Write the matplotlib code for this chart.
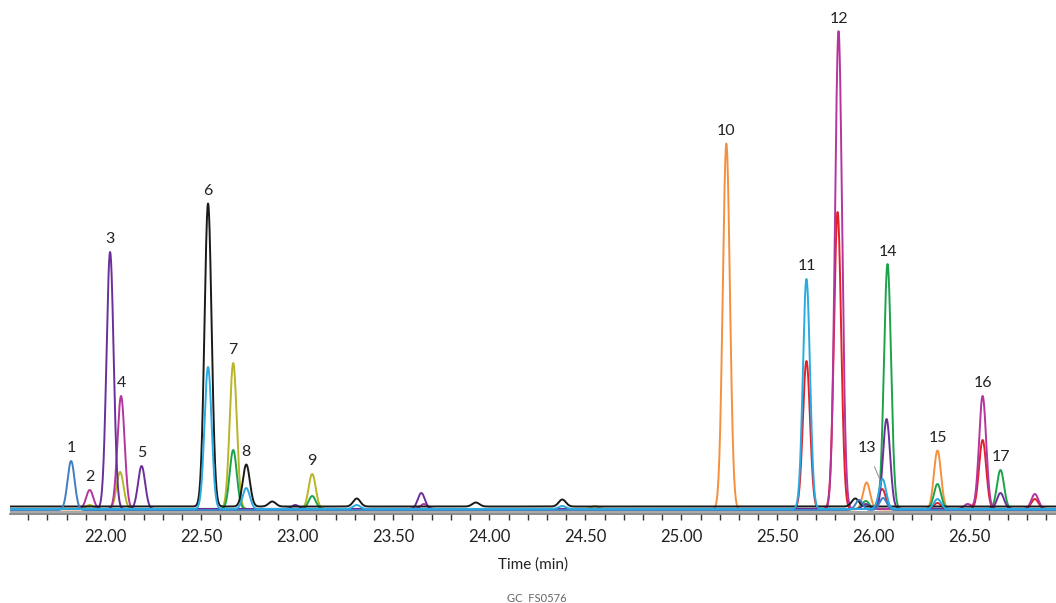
import numpy as np
import matplotlib
matplotlib.use("Agg")
import matplotlib.pyplot as plt
from matplotlib.ticker import MultipleLocator

plt.rcParams['font.family'] = ['Lato', 'DejaVu Sans']

# retention times (min) and peak heights (detector units) per trace
black_rt = [22.536, 22.735, 22.87, 23.31, 23.93, 24.38, 25.905]
black_h = [303, 42, 5, 8, 4, 7, 8]
cyan_rt = [22.536, 22.735, 23.31, 24.38, 25.651, 26.047, 26.333]
cyan_h = [142, 21, 4, 3, 230, 30, 10]
blue_rt = [21.823, 25.925, 26.05]
blue_h = [49, 10, 12]
magenta_rt = [21.92, 22.083, 23.66, 25.818, 26.49, 26.568, 26.84]
magenta_h = [19, 113, 5, 478, 5, 113, 15]
purple_rt = [22.026, 22.19, 22.99, 23.646, 25.96, 26.068, 26.661]
purple_h = [257, 43, 4, 16, 5, 90, 16]
olive_rt = [21.92, 22.078, 22.667, 23.078, 24.55]
olive_h = [4, 37, 146, 35, 3]
green_rt = [22.667, 23.078, 25.96, 26.073, 26.333, 26.661]
green_h = [59, 13, 8, 245, 25, 39]
orange_rt = [25.234, 25.964, 26.333]
orange_h = [366, 27, 59]
red_rt = [25.651, 25.813, 26.045, 26.333, 26.568, 26.84]
red_h = [148, 297, 20, 6, 69, 10]

peak_ids = ['1', '2', '3', '4', '5', '6', '7', '8', '9', '10',
            '11', '12', '13', '14', '15', '16', '17']
peak_rt = [21.823, 21.92, 22.026, 22.083, 22.19, 22.536, 22.667, 22.735,
           23.078, 25.234, 25.651, 25.818, 25.964, 26.073, 26.333, 26.568, 26.661]

traces = [
    ("#f5913e", orange_rt, orange_h, 0.5),
    ("#b8b528", olive_rt, olive_h, 1.0),
    ("#1ca24b", green_rt, green_h, 1.0),
    ("#e3212b", red_rt, red_h, 1.0),
    ("#b4359e", magenta_rt, magenta_h, 1.0),
    ("#6b2f9a", purple_rt, purple_h, 1.0),
    ("#1a1a1a", black_rt, black_h, 3.5),
    ("#3f7fc1", blue_rt, blue_h, 0.0),
    ("#29abe2", cyan_rt, cyan_h, 1.0),
]

sigma = 0.0185
t = np.linspace(21.5, 26.95, 4000)


def chrom(rts, hs, base):
    y = np.full_like(t, base)
    for r, h in zip(rts, hs):
        y += h * np.exp(-0.5 * ((t - r) / sigma) ** 2)
    return y


fig = plt.figure(figsize=(10.56, 6.03), dpi=100)
ax = fig.add_axes([10 / 1056, 89 / 603, 1046 / 1056, 514 / 603])

ax.plot(t, np.full_like(t, -2.0), color="#9a9a9a", lw=1.2)
curves = []
for col, rts, hs, base in traces:
    y = chrom(rts, hs, base)
    curves.append(y)
    ax.plot(t, y, color=col, lw=1.4)

top = np.max(np.array(curves), axis=0)
for lab, r in zip(peak_ids, peak_rt):
    i = np.argmin(np.abs(t - r))
    h = top[max(i - 8, 0):i + 8].max()
    if lab == '13':
        ax.annotate(lab, xy=(26.03, 32), xytext=(25.964, 62), ha='center', va='center',
                    fontsize=11.5, color='#222222',
                    arrowprops=dict(arrowstyle='-', color='#999999', lw=0.8, shrinkA=7, shrinkB=0))
    else:
        ax.annotate(lab, xy=(r, h), xytext=(0, 4), textcoords='offset points',
                    ha='center', va='bottom', fontsize=11.5, color='#222222')

ax.set_xlim(21.505, 26.95)
ax.set_ylim(-4, 510)
ax.xaxis.set_major_locator(MultipleLocator(0.5))
ax.xaxis.set_minor_locator(MultipleLocator(0.1))
ax.xaxis.set_major_formatter(matplotlib.ticker.FormatStrFormatter('%.2f'))
ax.tick_params(axis='x', which='both', length=4, width=1, color='#333333',
               labelsize=12, labelcolor='#222222', pad=7)
ax.set_yticks([])
for s in ['top', 'left', 'right']:
    ax.spines[s].set_visible(False)
ax.spines['bottom'].set_color('#777777')
ax.spines['bottom'].set_linewidth(1.2)
ax.set_xlabel('Time (min)', fontsize=11, color='#222222', labelpad=9)

fig.text(537 / 1056, 1 - 598 / 603, 'GC  FS0576', ha='center', va='center',
         fontsize=8, color='#666666')

fig.savefig('out.png', dpi=100)
